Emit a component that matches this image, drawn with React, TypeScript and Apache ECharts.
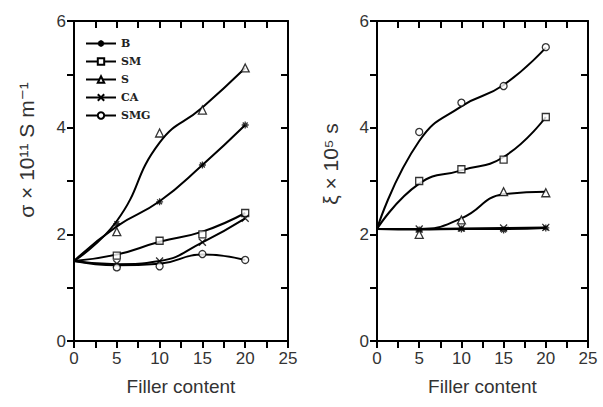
import React, { useEffect, useRef } from "react";
import * as echarts from "echarts";

const fillerContent = [0, 5, 10, 15, 20];
const seriesNames = ["B", "SM", "S", "CA", "SMG"];

// measured points: conductivity sigma x 10^11 S m^-1 (left panel)
const sigmaB = [1.5, 2.2, 2.61, 3.3, 4.05];
const sigmaSM = [1.5, 1.6, 1.88, 2.0, 2.4];
const sigmaS = [1.5, 2.05, 3.9, 4.33, 5.12];
const sigmaCA = [1.5, 1.45, 1.5, 1.85, 2.3];
const sigmaSMG = [1.5, 1.38, 1.4, 1.63, 1.52];

// fitted curves
const sigmaFitB = [1.5, 2.15, 2.62, 3.3, 4.05];
const sigmaFitSM = [1.5, 1.62, 1.86, 2.05, 2.4];
const sigmaFitS = [1.5, 2.25, 3.72, 4.38, 5.12];
const sigmaFitCA = [1.5, 1.44, 1.5, 1.85, 2.3];
const sigmaFitSMG = [1.5, 1.42, 1.45, 1.62, 1.52];

// measured points: relaxation time xi x 10^5 s (right panel)
const xiB = [2.1, 2.08, 2.1, 2.08, 2.12];
const xiSM = [2.1, 3.0, 3.22, 3.4, 4.2];
const xiS = [2.1, 2.0, 2.27, 2.8, 2.78];
const xiCA = [2.1, 2.1, 2.12, 2.12, 2.13];
const xiSMG = [2.1, 3.92, 4.47, 4.78, 5.51];

// fitted curves
const xiFitB = [2.1, 2.09, 2.1, 2.1, 2.12];
const xiFitSM = [2.1, 2.95, 3.2, 3.45, 4.2];
const xiFitS = [2.1, 2.1, 2.3, 2.75, 2.8];
const xiFitCA = [2.1, 2.1, 2.11, 2.12, 2.13];
const xiFitSMG = [2.1, 3.75, 4.4, 4.8, 5.5];

const xTicks = [0, 5, 10, 15, 20, 25];
const yTicks = [0, 2, 4, 6];

const leftYTitle = "σ × 10¹¹ S m⁻¹";
const rightYTitle = "ξ × 10⁵ s";
const xTitle = "Filler content";

const symbols: Record<string, string> = {
  B: "path://M5,0L5,10M0,5L10,5M1.5,1.5L8.5,8.5M8.5,1.5L1.5,8.5",
  SM: "rect",
  S: "triangle",
  CA: "path://M0,0L10,10M10,0L0,10",
  SMG: "circle",
};

const FONT = "'Liberation Sans', Arial, 'DejaVu Sans', sans-serif";
const TXT = "#333";

export default function App() {
  const ref = useRef<HTMLDivElement>(null);
  useEffect(() => {
    if (!ref.current) return;
    const chart = echarts.init(ref.current, undefined, { renderer: "svg" });

    const pair = (ys: number[]) => fillerContent.map((x, i) => [x, ys[i]]);
    const leftPts = [sigmaB, sigmaSM, sigmaS, sigmaCA, sigmaSMG];
    const leftFit = [sigmaFitB, sigmaFitSM, sigmaFitS, sigmaFitCA, sigmaFitSMG];
    const rightPts = [xiB, xiSM, xiS, xiCA, xiSMG];
    const rightFit = [xiFitB, xiFitSM, xiFitS, xiFitCA, xiFitSMG];

    const markerStyle = () => ({ color: "#fff", borderColor: "#000", borderWidth: 1.3 });

    const fitSeries = (name: string, ys: number[], axis: number) => ({
      name,
      type: "line",
      xAxisIndex: axis * 2,
      yAxisIndex: axis * 2,
      data: pair(ys),
      smooth: 0.5,
      symbol: symbols[name],
      symbolSize: name === "S" ? 8 : 7,
      showSymbol: false,
      lineStyle: { color: "#000", width: 2 },
      itemStyle: markerStyle(),
      z: 2,
    });
    const ptSeries = (name: string, ys: number[], axis: number) => ({
      name,
      type: "scatter",
      xAxisIndex: axis * 2,
      yAxisIndex: axis * 2,
      data: pair(ys).slice(1),
      symbol: symbols[name],
      symbolSize: name === "S" ? 8 : 7,
      itemStyle: markerStyle(),
      z: 3,
    });

    const series: any[] = [];
    seriesNames.forEach((n, i) => series.push(fitSeries(n, leftFit[i], 0)));
    seriesNames.forEach((n, i) => series.push(fitSeries(n, rightFit[i], 1)));
    seriesNames.forEach((n, i) => series.push(ptSeries(n, leftPts[i], 0)));
    seriesNames.forEach((n, i) => series.push(ptSeries(n, rightPts[i], 1)));

    const line = () => ({ show: true, onZero: false, lineStyle: { color: "#000", width: 2 } });
    const tick = (inside: boolean) => ({
      show: true,
      inside,
      length: 7,
      lineStyle: { color: "#000", width: 2 },
    });
    const minor = () => ({ show: true, splitNumber: 2, length: 7, lineStyle: { color: "#000", width: 2 } });

    const xAxisMain = (gi: number) => ({
      type: "value",
      gridIndex: gi,
      position: "bottom",
      min: xTicks[0],
      max: xTicks[xTicks.length - 1],
      interval: 5,
      name: xTitle,
      nameLocation: "middle",
      nameGap: 36,
      nameTextStyle: { fontSize: 19, color: TXT, fontFamily: FONT },
      axisLine: line(),
      axisTick: tick(false),
      minorTick: minor(),
      axisLabel: { fontSize: 17, color: TXT, fontFamily: FONT, margin: 9 },
      splitLine: { show: false },
    });
    const xAxisMirror = (gi: number) => ({
      type: "value",
      gridIndex: gi,
      position: "top",
      min: xTicks[0],
      max: xTicks[xTicks.length - 1],
      interval: 5,
      axisLine: line(),
      axisTick: tick(true),
      minorTick: minor(),
      axisLabel: { show: false },
      splitLine: { show: false },
    });
    const yAxisMain = (gi: number) => ({
      type: "value",
      gridIndex: gi,
      position: "left",
      min: yTicks[0],
      max: yTicks[yTicks.length - 1],
      interval: 2,
      axisLine: line(),
      axisTick: tick(false),
      minorTick: minor(),
      axisLabel: { fontSize: 17, color: TXT, fontFamily: FONT, margin: 8 },
      splitLine: { show: false },
    });
    const yAxisMirror = (gi: number) => ({
      type: "value",
      gridIndex: gi,
      position: "right",
      min: yTicks[0],
      max: yTicks[yTicks.length - 1],
      interval: 2,
      axisLine: line(),
      axisTick: tick(true),
      minorTick: minor(),
      axisLabel: { show: false },
      splitLine: { show: false },
    });

    chart.setOption({
      animation: false,
      backgroundColor: "#fff",
      grid: [
        { left: 74, top: 21, width: 214, height: 320 },
        { left: 377, top: 21, width: 211, height: 320 },
      ],
      xAxis: [xAxisMain(0), xAxisMirror(0), xAxisMain(1), xAxisMirror(1)],
      yAxis: [yAxisMain(0), yAxisMirror(0), yAxisMain(1), yAxisMirror(1)],
      legend: {
        data: seriesNames,
        orient: "vertical",
        left: 80,
        top: 33,
        itemWidth: 30,
        itemHeight: 8,
        itemGap: 7,
        textStyle: {
          fontSize: 11,
          fontWeight: "bold",
          color: "#222",
          fontFamily: "'DejaVu Serif', 'Liberation Serif', serif",
        },
        selectedMode: false,
      },
      graphic: [
        {
          type: "text",
          x: 26,
          y: 150,
          rotation: Math.PI / 2,
          style: {
            text: leftYTitle,
            fontSize: 21,
            fill: TXT,
            fontFamily: FONT,
            align: "center",
            verticalAlign: "middle",
          },
        },
        {
          type: "text",
          x: 330,
          y: 164,
          rotation: Math.PI / 2,
          style: {
            text: rightYTitle,
            fontSize: 21,
            fill: TXT,
            fontFamily: FONT,
            align: "center",
            verticalAlign: "middle",
          },
        },
      ],
      series,
    });

    return () => chart.dispose();
  }, []);

  return (
    <div
      ref={ref}
      style={{ position: "fixed", left: 0, top: 0, width: 603, height: 407, background: "#fff" }}
    />
  );
}
